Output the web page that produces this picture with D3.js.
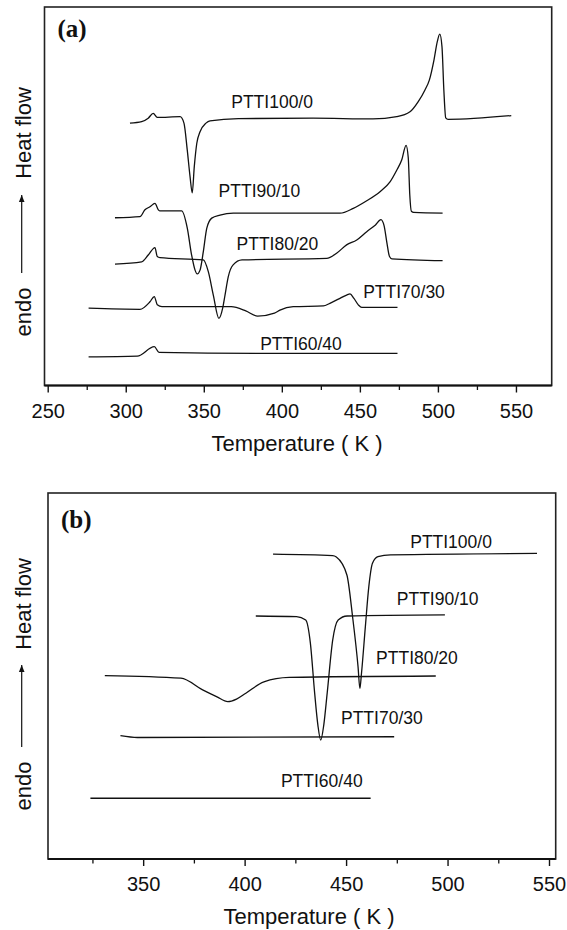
<!DOCTYPE html>
<html>
<head>
<meta charset="utf-8">
<script src="https://cdn.jsdelivr.net/npm/d3@7"></script>
<style>
  body { margin: 0; background: #fff; }
  svg { display: block; }
  text { font-family: 'Liberation Sans', Arial, sans-serif; fill: #111; }
</style>
</head>
<body>
<div id="chart"></div>
<script>
const samples = ['PTTI100/0', 'PTTI90/10', 'PTTI80/20', 'PTTI70/30', 'PTTI60/40'];

// (a) heating scans: [T (K), heat flow (a.u., offset)]
const heatA100 = [[302.7,69.2],[310.2,69.6],[314.4,70.5],[317.6,71.8],[320.2,70.7],[334.8,70.9],[337.3,69.2],[339.4,62.1],[341.2,55.0],[342.6,50.7],[343.9,57.6],[345.5,63.8],[347.6,66.9],[351.4,69.2],[354.0,69.8],[372.2,70.4],[420.0,70.5],[458.4,70.3],[473.6,70.9],[482.1,72.2],[487.4,74.9],[491.7,78.0],[494.5,80.6],[497.5,86.0],[499.6,90.8],[501.2,92.8],[502.6,89.5],[503.8,78.0],[505.0,70.6],[506.5,70.2],[547.0,71.2]];
const heatA90 = [[293.1,44.1],[309.1,44.4],[312.3,46.2],[315.5,47.0],[318.7,47.9],[320.9,46.2],[321.9,45.9],[335.8,45.9],[339.4,41.4],[342.2,34.2],[344.4,30.2],[345.8,29.2],[347.6,30.2],[349.7,35.1],[351.9,41.3],[355.1,44.0],[360.4,44.8],[368.9,45.3],[437.3,45.3],[445.8,46.6],[454.4,48.6],[462.9,51.0],[469.3,53.6],[473.6,56.7],[476.8,59.4],[479.6,63.3],[481.0,60.0],[482.0,50.0],[483.0,45.8],[484.5,45.5],[503.0,45.3]];
const heatA80 = [[293.1,31.8],[310.2,32.4],[314.4,34.2],[318.7,36.2],[320.2,33.8],[321.9,33.5],[349.7,32.9],[352.9,29.8],[356.1,23.6],[359.7,17.4],[362.1,20.1],[363.6,23.6],[365.7,28.5],[368.8,31.6],[374.5,32.9],[428.7,33.3],[435.1,34.7],[441.5,36.9],[448.0,38.2],[454.4,40.4],[460.0,42.2],[463.5,43.6],[465.5,42.0],[467.3,37.5],[469.0,33.8],[470.5,33.2],[503.0,32.7]];
const heatA70 = [[276.2,20.1],[309.1,19.8],[315.5,21.8],[318.3,23.2],[320.2,21.0],[323.2,20.5],[367.6,20.5],[376.9,19.4],[384.5,18.0],[395.3,18.8],[398.8,19.6],[407.3,20.5],[426.6,20.7],[430.8,21.4],[436.2,22.5],[441.5,23.6],[443.7,23.9],[446.2,22.7],[449.0,21.0],[451.2,20.3],[474.1,20.3]];
const heatA60 = [[276.2,7.2],[307.4,7.4],[318.3,9.9],[321.3,8.4],[393.0,8.1],[474.1,8.1]];
const labelAtA = [[367.6,73.1],[359.5,49.7],[371.0,35.5],[452.1,22.7],[386.1,9.0]];

// (b) cooling scans
const coolB100 = [[414.0,83.3],[443.4,82.9],[445.2,82.5],[450.4,77.6],[453.2,66.2],[455.9,52.5],[456.8,46.6],[457.6,50.8],[459.5,63.5],[461.2,74.4],[463.0,80.8],[465.7,82.6],[471.9,83.1],[544.1,83.5]];
const coolB90 = [[405.5,66.4],[425.6,66.2],[430.1,65.3],[432.4,59.0],[434.5,45.4],[436.1,36.6],[437.5,32.5],[439.0,36.6],[440.7,45.4],[443.4,59.8],[446.1,65.3],[450.5,66.4],[498.7,66.7]];
const coolB80 = [[331.1,50.1],[368.6,49.4],[379.3,46.2],[386.4,44.3],[391.7,43.0],[396.0,43.7],[400.6,45.3],[409.5,48.4],[422.0,49.6],[494.2,50.0]];
const coolB70 = [[338.8,33.7],[347.2,33.2],[473.7,33.4]];
const coolB60 = [[324.0,16.6],[462.1,16.6]];
const labelAtB = [[481.6,85.0],[475.0,69.4],[464.8,53.3],[447.5,37.0],[417.9,19.8]];

const ticksA = [250, 300, 350, 400, 450, 500, 550];
const minorA = [275, 325, 375, 425, 475, 525];
const ticksB = [350, 400, 450, 500, 550];
const minorB = [325, 375, 425, 475, 525];

const width = 567;
const height = 930;

const svg = d3
  .select('#chart')
  .append('svg')
  .attr('width', width)
  .attr('height', height);

// arrowhead for the "endo -> Heat flow" marker
svg
  .append('defs')
  .append('marker')
  .attr('id', 'arrow')
  .attr('viewBox', '0 0 10 10')
  .attr('refX', 10)
  .attr('refY', 5)
  .attr('markerWidth', 7)
  .attr('markerHeight', 7)
  .attr('markerUnits', 'userSpaceOnUse')
  .attr('orient', 'auto')
  .append('path')
  .attr('d', 'M0,1 L10,5 L0,9 Z')
  .attr('fill', '#111');

const panels = [
  {
    tag: '(a)',
    tagY: 37,
    box: { left: 44.5, top: 7, right: 551.7, bottom: 385.5 },
    yRange: [384, 7],
    xDomain: [247.95, 572.9],
    ticks: ticksA,
    minor: minorA,
    curves: [heatA100, heatA90, heatA80, heatA70, heatA60],
    labels: labelAtA,
    titleX: 297,
    heatY: 133,
    arrow: [273, 195],
    endoY: 312,
  },
  {
    tag: '(b)',
    tagY: 528,
    box: { left: 48, top: 493, right: 555.7, bottom: 859 },
    yRange: [859, 493],
    xDomain: [303.1, 553.3],
    ticks: ticksB,
    minor: minorB,
    curves: [coolB100, coolB90, coolB80, coolB70, coolB60],
    labels: labelAtB,
    titleX: 309,
    heatY: 604,
    arrow: [747, 665],
    endoY: 786,
  },
];

panels.forEach((p) => {
  const b = p.box;
  const x = d3.scaleLinear().domain(p.xDomain).range([b.left, b.right]);
  const y = d3.scaleLinear().domain([0, 100]).range(p.yRange);

  const g = svg.append('g').attr('class', 'panel');

  // minor ticks
  g.append('g')
    .attr('transform', `translate(0,${b.bottom})`)
    .call(d3.axisBottom(x).tickValues(p.minor).tickSize(4.5).tickFormat(''))
    .call((ax) => ax.select('.domain').remove())
    .selectAll('line')
    .attr('stroke', '#111')
    .attr('stroke-width', 1.3);

  // major ticks + labels
  const xAxis = g
    .append('g')
    .attr('transform', `translate(0,${b.bottom})`)
    .call(
      d3
        .axisBottom(x)
        .tickValues(p.ticks)
        .tickSize(7)
        .tickPadding(11)
        .tickFormat(d3.format('d'))
    );
  xAxis.select('.domain').remove();
  xAxis.selectAll('line').attr('stroke', '#111').attr('stroke-width', 1.4);
  xAxis
    .selectAll('text')
    .style('font-family', "'Liberation Sans', Arial, sans-serif")
    .style('font-size', '20px')
    .attr('fill', '#111');

  // frame
  g.append('rect')
    .attr('x', b.left)
    .attr('y', b.top)
    .attr('width', b.right - b.left)
    .attr('height', b.bottom - b.top)
    .attr('fill', 'none')
    .attr('stroke', '#222')
    .attr('stroke-width', 1.6);
  g.append('line')
    .attr('x1', b.left)
    .attr('x2', b.right)
    .attr('y1', b.bottom)
    .attr('y2', b.bottom)
    .attr('stroke', '#111')
    .attr('stroke-width', 2);

  const line = d3
    .line()
    .x((d) => x(d[0]))
    .y((d) => y(d[1]))
    .curve(d3.curveMonotoneX);

  g.selectAll('.curve')
    .data(p.curves)
    .join('path')
    .attr('class', 'curve')
    .attr('d', line)
    .attr('fill', 'none')
    .attr('stroke', '#111')
    .attr('stroke-width', 1.3)
    .attr('stroke-linejoin', 'round');

  g.selectAll('.curve-label')
    .data(p.labels)
    .join('text')
    .attr('class', 'curve-label')
    .attr('x', (d) => x(d[0]))
    .attr('y', (d) => y(d[1]))
    .style('font-size', '17.5px')
    .text((d, i) => samples[i]);

  // panel tag
  g.append('text')
    .attr('x', b.left + 13)
    .attr('y', p.tagY)
    .style('font-family', "'Liberation Serif', 'Times New Roman', serif")
    .style('font-size', '25px')
    .style('font-weight', 700)
    .text(p.tag);

  // x title
  g.append('text')
    .attr('x', p.titleX)
    .attr('y', b.bottom + 65)
    .attr('text-anchor', 'middle')
    .style('font-size', '22px')
    .text('Temperature ( K )');

  // y marker: endo ---> Heat flow
  g.append('text')
    .attr('transform', `translate(30.5,${p.heatY}) rotate(-90)`)
    .attr('text-anchor', 'middle')
    .style('font-size', '22px')
    .text('Heat flow');
  g.append('line')
    .attr('x1', 21.7)
    .attr('x2', 21.7)
    .attr('y1', p.arrow[0])
    .attr('y2', p.arrow[1])
    .attr('stroke', '#111')
    .attr('stroke-width', 1.2)
    .attr('marker-end', 'url(#arrow)');
  g.append('text')
    .attr('transform', `translate(30.5,${p.endoY}) rotate(-90)`)
    .attr('text-anchor', 'middle')
    .style('font-size', '22px')
    .text('endo');
});
</script>
</body>
</html>
